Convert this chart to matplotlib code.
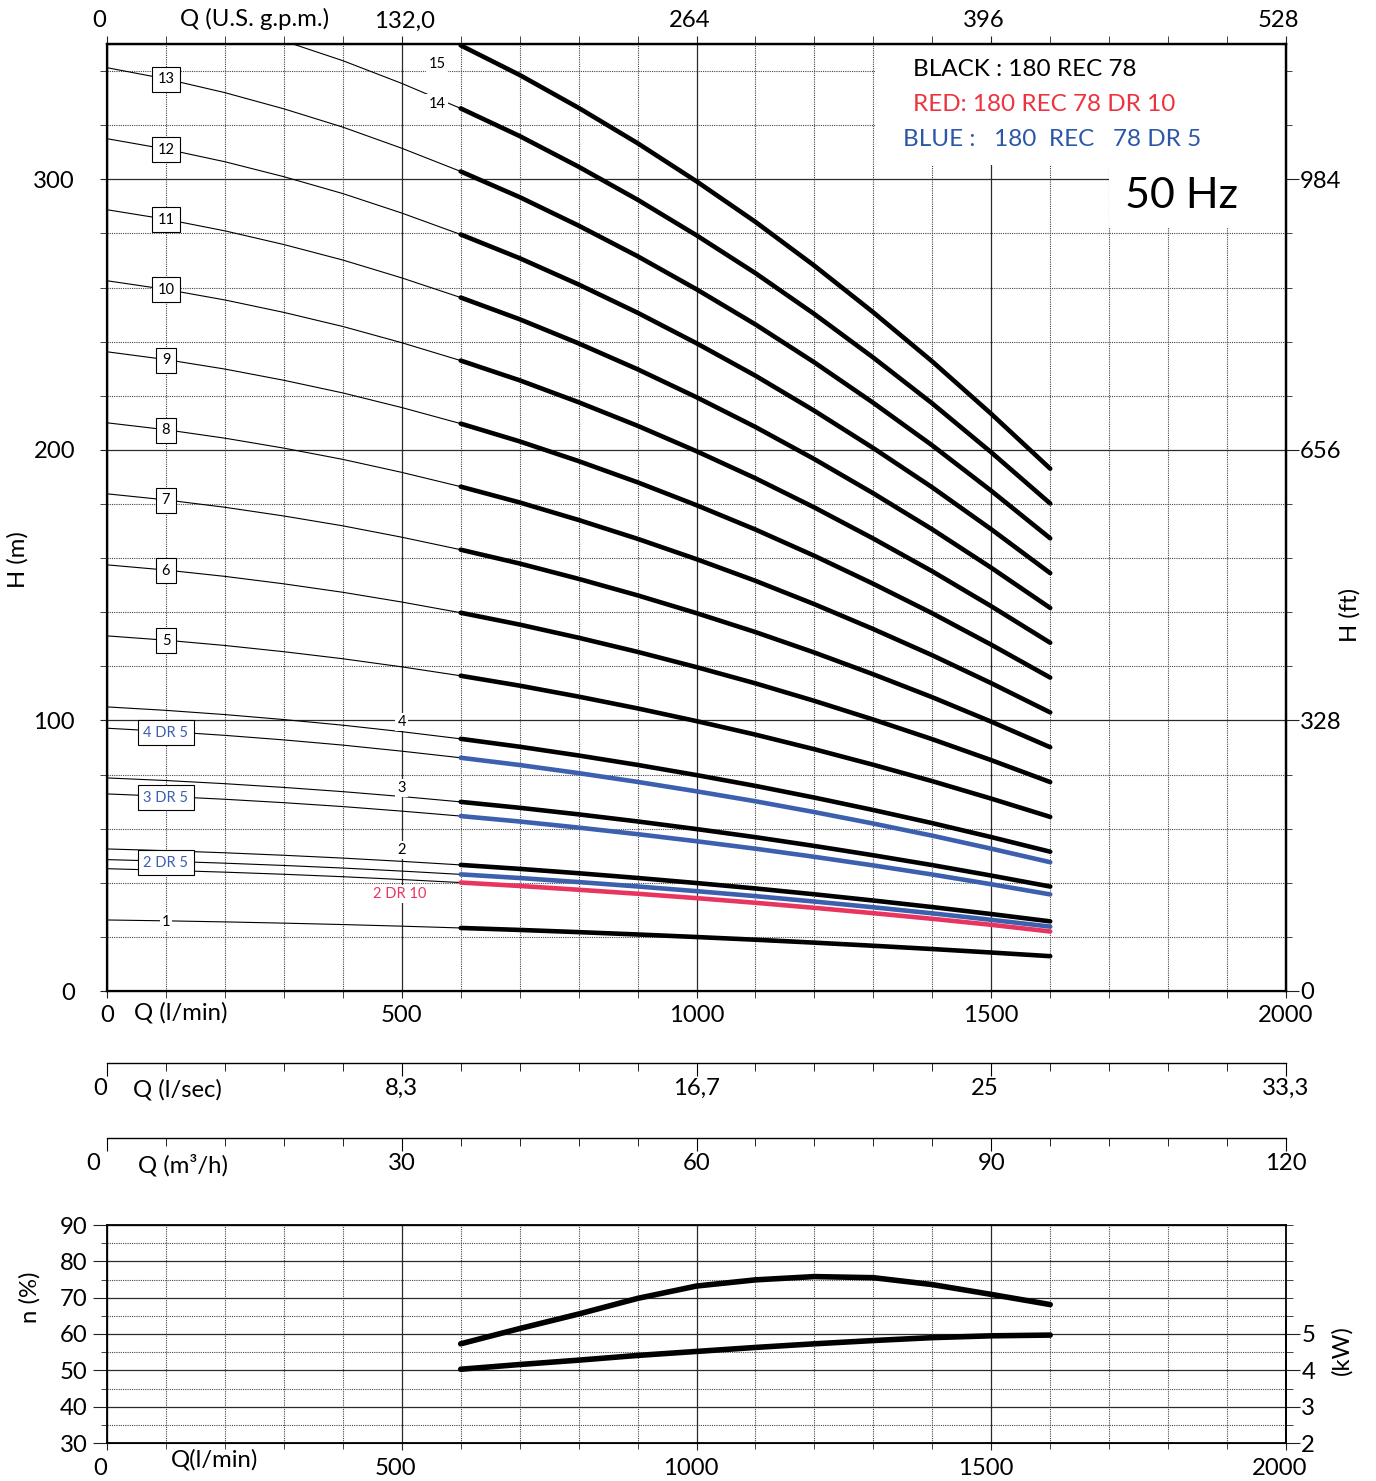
import numpy as np
import matplotlib
matplotlib.use("Agg")
import matplotlib.pyplot as plt
import matplotlib.transforms as mtrans
from matplotlib.patches import Rectangle
from matplotlib.ticker import MultipleLocator

plt.rcParams["font.family"] = ["Lato", "DejaVu Sans"]

# ---- data ----
# flow in l/min
q = [0, 100, 200, 300, 400, 500, 600, 700, 800, 900,
     1000, 1100, 1200, 1300, 1400, 1500, 1600]
# head per stage (m)
h_rec78 = [26.25, 25.93, 25.54, 25.08, 24.56, 23.96, 23.30, 22.57, 21.76,
           20.89, 19.95, 18.95, 17.87, 16.72, 15.51, 14.22, 12.87]
h_dr5 = [24.28, 23.98, 23.62, 23.20, 22.72, 22.16, 21.55, 20.88, 20.13,
         19.32, 18.45, 17.53, 16.53, 15.47, 14.35, 13.15, 11.90]
h_dr10 = [22.60, 22.30, 21.96, 21.57, 21.12, 20.60, 20.04, 19.41, 18.71,
          17.97, 17.16, 16.30, 15.37, 14.38, 13.34, 12.23, 11.00]
stages = list(range(1, 16))
dr5_stages = [2, 3, 4]
dr10_stages = [2]
i_start = 6  # curve becomes thick from 600 l/min

# efficiency (%) and power (kW)
q_eff = [600, 700, 800, 900, 1000, 1100, 1200, 1300, 1400, 1500, 1600]
eff = [57.3, 61.5, 65.5, 69.8, 73.2, 74.9, 75.8, 75.5, 73.6, 70.9, 68.1]
power = [4.03, 4.16, 4.28, 4.41, 4.52, 4.63, 4.73, 4.82, 4.90, 4.95, 4.97]

q_ticks = [0, 500, 1000, 1500, 2000]
lmin_labels = ["0", "500", "1000", "1500", "2000"]
gpm_labels = ["0", "132,0", "264", "396", "528"]
lsec_labels = ["0", "8,3", "16,7", "25", "33,3"]
m3h_labels = ["0", "30", "60", "90", "120"]
h_ticks = [0, 100, 200, 300]
h_labels = ["0", "100", "200", "300"]
ft_labels = ["0", "328", "656", "984"]
kw_ticks = [2, 3, 4, 5]

BLUE = "#3c5fae"
RED = "#e8355f"
FS = 17.2

W, H = 1376, 1481
fig = plt.figure(figsize=(W / 100, H / 100), dpi=100)


def rect(x0, y0, x1, y1):
    return [x0 / W, 1 - y1 / H, (x1 - x0) / W, (y1 - y0) / H]


def ftext(x, y, s, **kw):
    fig.text(x / W, 1 - y / H, s, ha="center", va="center", fontsize=FS, **kw)


def shift(labels, dxs):
    for lab, dx in zip(labels, dxs):
        lab.set_transform(lab.get_transform() +
                          mtrans.ScaledTranslation(dx / 100, 0, fig.dpi_scale_trans))


def grid_setup(a, xmin, ymaj, ymin):
    a.set_axisbelow(True)
    a.xaxis.set_major_locator(MultipleLocator(500))
    a.xaxis.set_minor_locator(MultipleLocator(xmin))
    a.yaxis.set_major_locator(MultipleLocator(ymaj))
    a.yaxis.set_minor_locator(MultipleLocator(ymin))
    a.grid(which="major", color="#2a2a2a", lw=0.9, ls="-")
    a.grid(which="minor", color="#444444", lw=0.8, ls=(0, (1, 1)))


# ---- main H-Q chart ----
ax = fig.add_axes(rect(107, 44, 1286, 991))
ax.set_xlim(0, 2000)
ax.set_ylim(0, 350)
grid_setup(ax, 100, 100, 20)
ax.set_xticks(q_ticks, lmin_labels)
ax.set_yticks(h_ticks, h_labels)
ax.tick_params(which="both", direction="out", length=5, labelsize=FS, color="#222222")
ax.tick_params(axis="x", pad=5)
ax.tick_params(axis="y", pad=18)
for s in ax.spines.values():
    s.set_linewidth(1.6)

thin = dict(color="black", lw=0.8, zorder=3)
thick = dict(lw=3.3, solid_capstyle="round", solid_joinstyle="round", zorder=4)
for n in stages:
    hh = [n * v for v in h_rec78]
    ax.plot(q[:i_start + 1], hh[:i_start + 1], **thin)
    ax.plot(q[i_start:], hh[i_start:], color="black", **thick)
for n in dr5_stages:
    hh = [n * v for v in h_dr5]
    ax.plot(q[:i_start + 1], hh[:i_start + 1], **thin)
    ax.plot(q[i_start:], hh[i_start:], color=BLUE, **thick)
for n in dr10_stages:
    hh = [n * v for v in h_dr10]
    ax.plot(q[:i_start + 1], hh[:i_start + 1], **thin)
    ax.plot(q[i_start:], hh[i_start:], color=RED, **thick)

# curve labels
box = dict(boxstyle="square,pad=0.38", fc="white", ec="black", lw=0.8)
plain = dict(boxstyle="square,pad=0.15", fc="white", ec="none")
for n in range(5, 14):
    ax.text(100, n * h_rec78[1] - 0.2, str(n), ha="center", va="center",
            fontsize=10.5, bbox=box, zorder=6)
for n in dr5_stages:
    ax.text(100, n * h_dr5[1] - 0.5, f"{n} DR 5", ha="center", va="center",
            fontsize=10.5, color=BLUE, bbox=dict(box, pad=0.5), zorder=6)
ax.text(100, 25.5, "1", ha="center", va="center", fontsize=10.5, bbox=plain, zorder=6)
ax.text(500, 99.4, "4", ha="center", va="center", fontsize=10.5, bbox=plain, zorder=6)
ax.text(500, 75.0, "3", ha="center", va="center", fontsize=10.5, bbox=plain, zorder=6)
ax.text(500, 52.1, "2", ha="center", va="center", fontsize=10.5, bbox=plain, zorder=6)
ax.text(497, 35.9, "2 DR 10", ha="center", va="center", fontsize=10.5, color=RED,
        bbox=plain, zorder=6)
ax.text(560, 342.7, "15", ha="center", va="center", fontsize=10.5, bbox=plain, zorder=6)
ax.text(560, 328.0, "14", ha="center", va="center", fontsize=10.5, bbox=plain, zorder=6)

# legend areas
ax.add_patch(Rectangle((1303, 305.4), 697, 44.6, fc="white", ec="none", zorder=2))
ax.add_patch(Rectangle((1700, 282.0), 300, 23.5, fc="white", ec="none", zorder=2))
ax.text(1367, 340.6, "BLACK : 180 REC 78", fontsize=17.5, va="center", zorder=6)
ax.text(1367, 327.6, "RED: 180 REC 78 DR 10", fontsize=17.5, va="center",
        color="#ee3340", zorder=6)
ax.text(1350, 314.7, "BLUE :   180  REC   78 DR 5", fontsize=17.5, va="center",
        color="#2b57a8", zorder=6)
ax.text(1727, 294.0, "50 Hz", fontsize=31, va="center", zorder=6)

# top axis (U.S. gpm)
axt = ax.twiny()
axt.set_xlim(0, 2000)
axt.set_xticks(q_ticks, gpm_labels)
axt.xaxis.set_minor_locator(MultipleLocator(100))
axt.tick_params(which="both", direction="out", length=6, labelsize=FS, pad=3, color="#222222")
axt.spines["top"].set_linewidth(1.6)
shift(axt.get_xticklabels(), [-8, 3, -7, -7, -8])

# right axis (ft)
axr = ax.twinx()
axr.set_ylim(0, 350)
axr.set_yticks(h_ticks, ft_labels)
axr.yaxis.set_minor_locator(MultipleLocator(20))
axr.tick_params(which="major", direction="out", length=9, labelsize=FS, pad=1, color="#222222")
axr.tick_params(which="minor", direction="out", length=4, color="#222222")
axr.spines["right"].set_linewidth(1.6)

ftext(255, 19, "Q (U.S. g.p.m.)")
ftext(181, 1013, "Q (l/min)")
ftext(18, 560, "H (m)", rotation=90)
ftext(1350, 615, "H (ft)", rotation=90)

# ---- extra flow scales ----
for ypx, labels, name, name_x, dxs in [
        (1063, lsec_labels, "Q (l/sec)", 177, [-7, 0, 0, -7, 0]),
        (1138, m3h_labels, "Q (m³/h)", 183, [-14, 0, 0, 0, 0])]:
    a = fig.add_axes(rect(107, ypx - 1, 1286, ypx))
    a.set_xlim(0, 2000)
    a.patch.set_visible(False)
    for s in ["left", "right", "top"]:
        a.spines[s].set_visible(False)
    a.spines["bottom"].set_linestyle((0, (5, 1)))
    a.spines["bottom"].set_linewidth(1.0)
    a.set_yticks([])
    a.set_xticks(q_ticks, labels)
    a.xaxis.set_minor_locator(MultipleLocator(100))
    a.tick_params(axis="x", which="major", direction="out", length=9, labelsize=FS, pad=2)
    a.tick_params(axis="x", which="minor", direction="out", length=6)
    shift(a.get_xticklabels(), dxs)
    ftext(name_x, ypx + 27, name)

# ---- efficiency / power chart ----
ax2 = fig.add_axes(rect(107, 1225, 1286, 1443))
ax2.set_xlim(0, 2000)
ax2.set_ylim(30, 90)
grid_setup(ax2, 100, 10, 5)
ax2.set_xticks(q_ticks, lmin_labels)
ax2.tick_params(which="major", direction="out", length=10, labelsize=FS, color="#222222")
ax2.tick_params(which="minor", direction="out", length=4, color="#222222")
ax2.tick_params(axis="x", which="major", length=5, pad=6)
ax2.tick_params(axis="y", pad=4)
for s in ax2.spines.values():
    s.set_linewidth(1.3)
shift(ax2.get_xticklabels(), [-7, -6, -6, -5, -6])
ax2.plot(q_eff, eff, color="black", lw=4, solid_capstyle="round",
         solid_joinstyle="round", zorder=4)

ax2r = ax2.twinx()
ax2r.set_ylim(2, 8)
ax2r.set_yticks(kw_ticks)
ax2r.yaxis.set_minor_locator(MultipleLocator(0.5))
ax2r.spines["right"].set_bounds(2, 5.5)
ax2r.spines["right"].set_linewidth(1.3)
ax2r.tick_params(which="major", direction="out", length=10, labelsize=FS, pad=1, color="#222222")
ax2r.tick_params(which="minor", direction="out", length=5, color="#222222")
ax2r.plot(q_eff, power, color="black", lw=4, solid_capstyle="round",
          solid_joinstyle="round", zorder=4)

ftext(215, 1460, "Q(l/min)")
ftext(30, 1297, "n (%)", rotation=90)
ftext(1342, 1350, "(kW)", rotation=90)

fig.savefig("out.png", dpi=100)
